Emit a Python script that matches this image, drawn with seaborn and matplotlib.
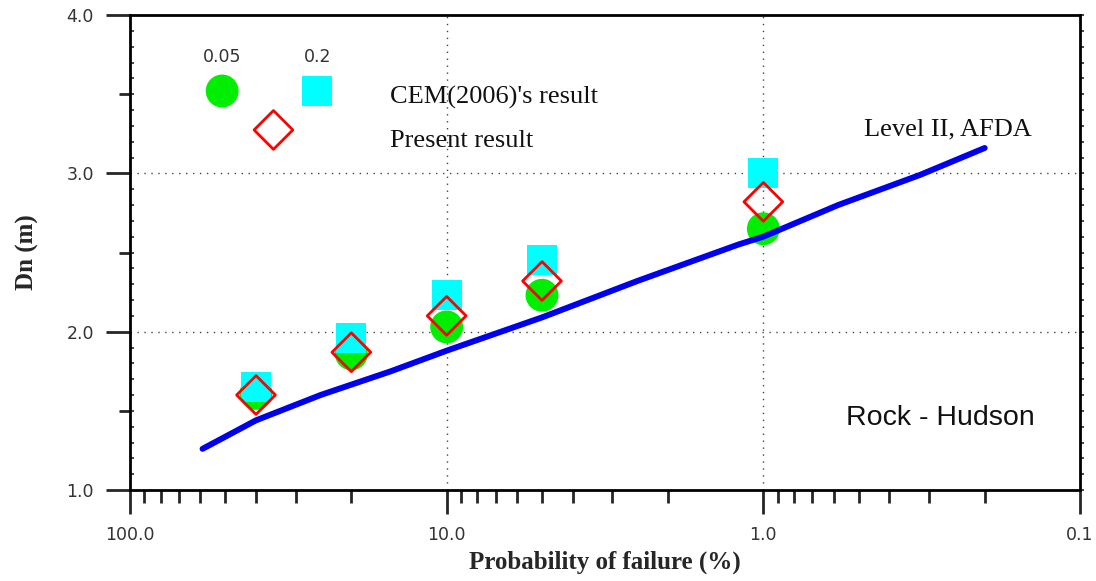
import matplotlib
matplotlib.use("Agg")
import matplotlib.pyplot as plt
import matplotlib.ticker as mticker
import seaborn as sns
import numpy as np

# Probability of failure (%) at which design diameters were computed
prob = [40, 20, 10, 5, 1]
# CEM (2006) results for the two damage levels
dn_cem_005 = [1.61, 1.86, 2.03, 2.23, 2.65]
dn_cem_02 = [1.65, 1.96, 2.23, 2.45, 3.00]
# Present (Level II, AFDA) result
dn_present = [1.60, 1.87, 2.10, 2.32, 2.82]

# Level II AFDA curve
curve_prob = [59, 40, 25, 15, 10, 5, 2.5, 1.2, 1.0, 0.58, 0.32, 0.2]
curve_dn = [1.26, 1.44, 1.60, 1.75, 1.88, 2.09, 2.32, 2.55, 2.60, 2.80, 2.99, 3.16]

x_ticks = [100, 10, 1, 0.1]
x_tick_labels = ["100.0", "10.0", "1.0", "0.1"]
y_ticks = [1.0, 2.0, 3.0, 4.0]
y_tick_labels = ["1.0", "2.0", "3.0", "4.0"]

sns.set_style("white")
plt.rcParams["font.family"] = ["DejaVu Sans"]

GREEN = "#00ee00"
CYAN = "#00ffff"
RED = "#ff0000"
BLUE = "#0000f0"

fig = plt.figure(figsize=(10.96, 5.81), dpi=100)
ax = fig.add_axes([130 / 1096, 1 - 490 / 581, 950 / 1096, 475 / 581])

sns.scatterplot(x=prob, y=dn_cem_005, ax=ax, marker="o", s=560, color=GREEN,
                edgecolor="none", zorder=3)
sns.scatterplot(x=prob, y=dn_cem_02, ax=ax, marker="s", s=470, color=CYAN,
                edgecolor="none", zorder=4)
sns.lineplot(x=curve_prob, y=curve_dn, ax=ax, color=BLUE, lw=4.3, sort=False,
             estimator=None, zorder=5, solid_capstyle="round")
sns.scatterplot(x=prob, y=dn_present, ax=ax, marker="D", s=390, facecolor="none",
                edgecolor=RED, linewidth=2.0, zorder=6)

ax.set_xscale("log")
ax.set_xlim(100, 0.1)
ax.set_ylim(1.0, 4.0)

# grid only at interior major ticks
for gx in [10, 1]:
    ax.axvline(gx, color="#444444", lw=1.0, ls=(0, (1, 4)), zorder=1)
for gy in [2.0, 3.0]:
    ax.axhline(gy, color="#444444", lw=1.0, ls=(0, (1, 4)), zorder=1)

for sp in ax.spines.values():
    sp.set_linewidth(2.0)
    sp.set_color("black")

# x axis ticks
ax.xaxis.set_major_locator(mticker.FixedLocator(x_ticks))
ax.xaxis.set_major_formatter(mticker.FixedFormatter(x_tick_labels))
ax.xaxis.set_minor_locator(mticker.LogLocator(base=10, subs=np.arange(2, 10)))
ax.xaxis.set_minor_formatter(mticker.NullFormatter())
ax.tick_params(axis="x", which="major", direction="out", length=17, width=2.0,
               pad=9, labelsize=12.5, labelcolor="#333333", bottom=True, top=False)
ax.tick_params(axis="x", which="minor", direction="out", length=9.5, width=2.0,
               bottom=True, top=False)

# y axis ticks
ax.yaxis.set_major_locator(mticker.FixedLocator(y_ticks))
ax.yaxis.set_major_formatter(mticker.FixedFormatter(y_tick_labels))
ax.yaxis.set_minor_locator(mticker.MultipleLocator(0.1))
ax.tick_params(axis="y", which="major", direction="out", length=17, width=2.0,
               pad=9, labelsize=12.5, labelcolor="#333333", left=True, right=False)
ax.tick_params(axis="y", which="minor", direction="in", length=3, width=1.2,
               left=True, right=False)

# half-unit ticks on the left spine
half = ax.secondary_yaxis("left")
half.yaxis.set_major_locator(mticker.FixedLocator([1.5, 2.5, 3.5]))
half.yaxis.set_major_formatter(mticker.NullFormatter())
half.yaxis.set_minor_locator(mticker.NullLocator())
half.tick_params(which="major", direction="out", length=8, width=2.0)
half.spines["left"].set_visible(False)

# fine ticks on the right spine
rsec = ax.secondary_yaxis("right")
rsec.yaxis.set_major_locator(mticker.MultipleLocator(0.1))
rsec.yaxis.set_major_formatter(mticker.NullFormatter())
rsec.yaxis.set_minor_locator(mticker.NullLocator())
rsec.tick_params(which="major", direction="out", length=3, width=1.2)
rsec.spines["right"].set_visible(False)

serif = ["Liberation Serif", "DejaVu Serif"]
ax.set_xlabel("Probability of failure (%)", family=serif, fontweight="bold",
              fontsize=18, labelpad=5)
ax.set_ylabel("Dn (m)", family=serif, fontweight="bold", fontsize=18, labelpad=20)

# key
ax.scatter([0.097], [0.840], transform=ax.transAxes, marker="o", s=560,
           color=GREEN, edgecolor="none", clip_on=False, zorder=7)
ax.scatter([0.197], [0.840], transform=ax.transAxes, marker="s", s=470,
           color=CYAN, edgecolor="none", clip_on=False, zorder=7)
ax.scatter([0.151], [0.758], transform=ax.transAxes, marker="D", s=390,
           facecolor="none", edgecolor=RED, linewidth=2.0, clip_on=False, zorder=7)
ax.text(0.097, 0.912, "0.05", transform=ax.transAxes, ha="center", va="center",
        fontsize=12.5, color="#333333")
ax.text(0.198, 0.912, "0.2", transform=ax.transAxes, ha="center", va="center",
        fontsize=12.5, color="#333333")
ax.text(0.274, 0.827, "CEM(2006)'s result", transform=ax.transAxes, ha="left",
        va="center", family=serif, fontsize=19, color="#111111")
ax.text(0.274, 0.735, "Present result", transform=ax.transAxes, ha="left",
        va="center", family=serif, fontsize=19, color="#111111")
ax.text(0.861, 0.758, "Level II, AFDA", transform=ax.transAxes, ha="center",
        va="center", family=serif, fontsize=19, color="#111111")
ax.text(0.853, 0.152, "Rock - Hudson", transform=ax.transAxes, ha="center",
        va="center", family=["Liberation Sans", "DejaVu Sans"], fontsize=20.5,
        color="#111111")

fig.savefig("out.png", dpi=100)
